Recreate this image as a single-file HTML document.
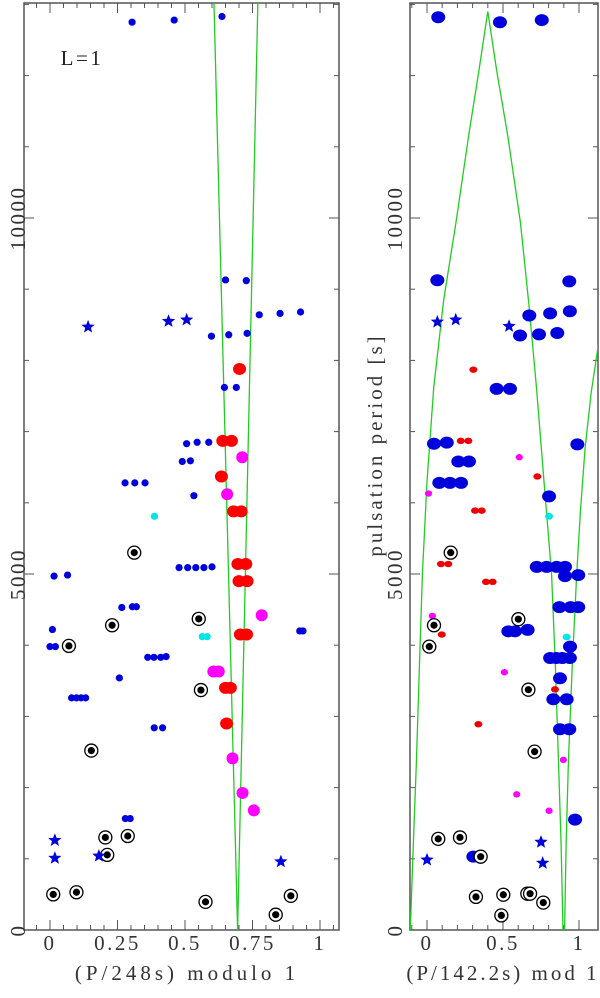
<!DOCTYPE html>
<html><head><meta charset="utf-8"><style>
body{margin:0;background:#fff}
svg{display:block;font-family:"Liberation Serif",serif}
svg text{letter-spacing:2.5px}
</style></head><body>
<svg id="c" width="600" height="998" viewBox="0 0 600 998"></svg>
<script>
// ---- left panel data (P/248s mod 1) ----
const L_blueX=[.304,.46,.637,.65,.727,.775,.852,.928,.598,.662,.73,.646,.69,.506,.545,.588,.49,.52,.278,.314,.352,.533,.478,.51,.54,.57,.6,.015,.065,.266,.305,.32,.009,.925,.937,0,.02,.362,.385,.41,.43,.257,.08,.098,.115,.132,.386,.417,.279,.297];
const L_blueP=[12750,12780,12830,9130,9120,8640,8660,8680,8340,8360,8380,7620,7620,6830,6850,6850,6580,6590,6280,6280,6280,6100,5090,5090,5090,5090,5100,4970,4985,4530,4540,4540,4220,4200,4200,3980,3980,3830,3830,3830,3840,3540,3260,3260,3260,3260,2840,2840,1565,1565];
const L_redX=[.702,.64,.672,.635,.68,.708,.696,.725,.70,.73,.705,.728,.65,.668,.654];
const L_redP=[7880,6870,6870,6370,5880,5880,5140,5140,4900,4900,4150,4150,3400,3400,2900];
const L_magX=[.712,.656,.784,.605,.625,.676,.713,.755];
const L_magP=[6640,6120,4420,3630,3630,2410,1925,1680];
const L_cyanX=[.387,.564,.582];
const L_cyanP=[5810,4120,4120];
const L_circX=[.312,.551,.23,.07,.559,.153,.205,.288,.212,.012,.098,.576,.892,.836];
const L_circP=[5300,4370,4280,3990,3370,2520,1300,1320,1055,500,530,395,480,215];
const L_starX=[.141,.439,.506,.018,.018,.181,.855];
const L_starP=[8470,8550,8570,1260,1010,1040,960];
const L_lineAX=[.695,.607], L_lineAP=[0,13060];
const L_lineBX=[.695,.77], L_lineBP=[0,13060];
// ---- right panel data (P/142.2s mod 1) ----
const R_blueX=[.074,.48,.755,.068,.936,.673,.81,.94,.612,.737,.857,.458,.546,.046,.13,.989,.206,.276,.081,.151,.224,.803,.722,.787,.853,.908,.908,.995,.871,.945,.995,.535,.579,.662,.941,.81,.85,.89,.94,.875,.831,.919,.875,.936,.974,.305];
const R_blueP=[12820,12750,12780,9125,9110,8630,8660,8690,8350,8365,8385,7600,7600,6830,6845,6820,6580,6580,6280,6280,6280,6090,5100,5100,5100,5100,4970,4985,4535,4535,4535,4195,4195,4215,3980,3820,3820,3820,3820,3535,3240,3240,2820,2820,1550,1030];
const R_redX=[.305,.222,.272,.726,.316,.36,.092,.14,.388,.432,.097,.842,.338];
const R_redP=[7870,6870,6870,6370,5890,5890,5140,5140,4890,4890,4150,3380,2890];
const R_magX=[.607,.01,.035,.509,.897,.59,.803];
const R_magP=[6640,6130,4410,3620,2390,1905,1675];
const R_cyanX=[.803,.919];
const R_cyanP=[5810,4115];
const R_circX=[.156,.601,.046,.015,.667,.708,.074,.217,.353,.322,.502,.66,.678,.765,.489];
const R_circP=[5300,4365,4280,3980,3375,2505,1280,1300,1030,465,495,510,510,385,205];
const R_starX=[.068,.189,.54,0,.75,.761];
const R_starP=[8540,8570,8480,985,1235,940];
const R_curveAX=[-.11,-.09,-.07,-.05,-.03,0,.045,.11,.19,.275,.34,.40,.46,.53,.615,.67,.72,.77,.82,.845,.865,.882,.895];
const R_curveAP=[0,1200,2360,3700,5000,6300,7630,8850,9930,11170,12050,12900,12050,11170,9930,8800,7630,6300,4990,3700,2360,1200,0];
const R_curveBX=[.905,.915,.93,.955,.985,1.01,1.04,1.08,1.13];
const R_curveBP=[0,1200,2360,3700,5000,5900,6770,7550,8260];

const NS='http://www.w3.org/2000/svg';
const svg=document.getElementById('c');
function mk(t,a,p){const e=document.createElementNS(NS,t);for(const k in a)e.setAttribute(k,a[k]);(p||svg).appendChild(e);return e;}
const y=P=>930-P*0.0712;
const xl=v=>50+v*270;
const xr=v=>427+v*152;

function panel(name,x0,x1,xs,majors,minStep,xmin,xmax){
  const g=mk('g',{});
  
  
  const f=mk('rect',{x:x0,y:3,width:x1-x0,height:927,fill:'none',stroke:'#555','stroke-width':1.5},g);
  
  
  for(let P=0;P<=13000;P+=1000){const maj=P%5000===0,len=maj?10:5;
    mk('line',{x1:x0,x2:x0+len,y1:y(P),y2:y(P),stroke:'#555'},g);
    mk('line',{x1:x1,x2:x1-len,y1:y(P),y2:y(P),stroke:'#555'},g);}
  for(let v=Math.ceil(xmin/minStep)*minStep;v<=xmax;v+=minStep){const vv=Math.round(v*1000)/1000;
    const maj=majors.some(m=>Math.abs(m-vv)<1e-6),len=maj?10:5,X=xs(vv);
    mk('line',{x1:X,x2:X,y1:930,y2:930-len,stroke:'#555'},g);
    mk('line',{x1:X,x2:X,y1:3,y2:3+len,stroke:'#555'},g);}
  return g;
}
const gl=panel('left-panel',24,339,xl,[0,.25,.5,.75,1],.05,-.09,1.06);
const gr=panel('right-panel',410,598,xr,[0,.5,1],.1,-.11,1.08);

function ytl(x,P,txt,nm){const t=mk('text',{x:x,y:y(P),'font-size':21,fill:'#333','text-anchor':'middle',transform:`rotate(-90 ${x} ${y(P)})`});t.textContent=txt;
 }
[[0,'0'],[5000,'5000'],[10000,'10000']].forEach(([P,s])=>{ytl(25,P,s,'left-y-tick-'+s);ytl(402,P,s,'right-y-tick-'+s);});
function xtl(X,txt,nm){const t=mk('text',{x:X,y:950,'font-size':21,fill:'#333','text-anchor':'middle'});t.textContent=txt;
 }
[[0,'0'],[.25,'0.25'],[.5,'0.5'],[.75,'0.75'],[1,'1']].forEach(([v,s])=>xtl(xl(v),s,'left-x-tick-'+s));
[[0,'0'],[.5,'0.5'],[1,'1']].forEach(([v,s])=>xtl(xr(v),s,'right-x-tick-'+s));
let t=mk('text',{x:187,y:980,'font-size':21,fill:'#333','text-anchor':'middle','style':'letter-spacing:4px'});t.textContent='(P/248s) modulo 1';

t=mk('text',{x:503,y:980,'font-size':21,fill:'#333','text-anchor':'middle','style':'letter-spacing:3px'});t.textContent='(P/142.2s) mod 1';

t=mk('text',{x:382,y:445,'font-size':21,fill:'#333','text-anchor':'middle',transform:'rotate(-90 382 445)','style':'letter-spacing:3px'});t.textContent='pulsation period [s]';

t=mk('text',{x:82,y:65,'font-size':21,fill:'#222','text-anchor':'middle'});t.textContent='L=1';


function line(xs,XA,PA,nm,g){const d=XA.map((v,i)=>(i?'L':'M')+xs(v).toFixed(1)+' '+y(PA[i]).toFixed(1)).join(' ');
 const p=mk('path',{d:d,fill:'none',stroke:'#22cc22','stroke-width':1.3},g);
 }
const clipL=mk('clipPath',{id:'cl'});mk('rect',{x:24,y:3,width:315,height:927},clipL);
const clipR=mk('clipPath',{id:'cr'});mk('rect',{x:410,y:3,width:188,height:927},clipR);
const gL=mk('g',{'clip-path':'url(#cl)'});const gR=mk('g',{'clip-path':'url(#cr)'});
line(xl,L_lineAX,L_lineAP,'model-line-left',gL);line(xl,L_lineBX,L_lineBP,'model-line-right',gL);
line(xr,R_curveAX,R_curveAP,'model-curve-a',gR);line(xr,R_curveBX,R_curveBP,'model-curve-b',gR);

function dots(xs,X,P,rx,ry,col,nm,g){X.forEach((v,i)=>{const e=mk('ellipse',{cx:xs(v),cy:y(P[i]),rx:rx,ry:ry,fill:col},g);
 });}
function circs(xs,X,P,nm,g){X.forEach((v,i)=>{const c=mk('circle',{cx:xs(v),cy:y(P[i]),r:6.5,fill:'#fff',stroke:'#000','stroke-width':1.3},g);
 
 const d=mk('circle',{cx:xs(v),cy:y(P[i]),r:3.6,fill:'#000'},g);
 });}
function stars(xs,X,P,nm,g){X.forEach((v,i)=>{const cx=xs(v),cy=y(P[i]);let pts=[];
 for(let k=0;k<10;k++){const r=k%2?3:7,a=-Math.PI/2+k*Math.PI/5;pts.push((cx+r*Math.cos(a)).toFixed(1)+','+(cy+r*Math.sin(a)).toFixed(1));}
 const s=mk('polygon',{points:pts.join(' '),fill:'#0000dd'},g);
 });}

dots(xl,L_blueX,L_blueP,3.6,3.6,'#0000dd','blue-point-left',gL);
dots(xl,L_redX,L_redP,6.5,6,'#ff0000','red-point-left',gL);
dots(xl,L_magX,L_magP,6,6,'#ff00ff','magenta-point-left',gL);
dots(xl,L_cyanX,L_cyanP,3.6,3.6,'#00e5e5','cyan-point-left',gL);
circs(xl,L_circX,L_circP,'circled-point-left',gL);
stars(xl,L_starX,L_starP,'star-point-left',gL);

dots(xr,R_blueX,R_blueP,7,6,'#0000dd','blue-point-right',gR);
dots(xr,R_redX,R_redP,4,3.2,'#ee0000','red-point-right',gR);
dots(xr,R_magX,R_magP,3.6,3.2,'#ff00ff','magenta-point-right',gR);
dots(xr,R_cyanX,R_cyanP,4,3.4,'#00e5e5','cyan-point-right',gR);
circs(xr,R_circX,R_circP,'circled-point-right',gR);
stars(xr,R_starX,R_starP,'star-point-right',gR);
</script>
</body></html>
